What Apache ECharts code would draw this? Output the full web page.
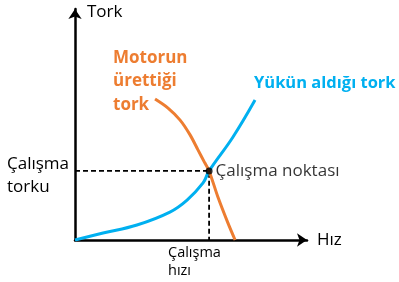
<!DOCTYPE html>
<html><head><meta charset="utf-8">
<script src="https://cdn.jsdelivr.net/npm/echarts@6/dist/echarts.min.js"></script>
<style>html,body{margin:0;padding:0;background:#fff}#c{width:399px;height:282px}</style>
</head><body><div id="c"></div>
<script>
// Data (arbitrary units: speed 0-100, torque 0-100)
const motorSpeed  = [34.5, 40.1, 45.3, 49.6, 53.0, 56.0, 57.8, 61.6, 65.9, 69.0];
const motorTorque = [61.0, 57.1, 51.9, 45.5, 39.0, 33.3, 29.9, 18.6, 7.4, 0];
const loadSpeed   = [0, 12.1, 26.7, 40.9, 48.3, 55.2, 57.8, 68.1, 77.6];
const loadTorque  = [0, 3.0, 6.5, 12.1, 17.3, 24.7, 29.9, 44.6, 60.6];
const opSpeed = 57.8, opTorque = 29.9;
const axisNames = ['Hız', 'Tork'];
const motorLabel = ['Motorun', 'ürettiği', 'tork'];
const loadLabel = 'Yükün aldığı tork';
const opLabel = 'Çalışma noktası';
const opTorqueLabel = ['Çalışma', 'torku'];
const opSpeedLabel = ['Çalışma', 'hızı'];

const FONT = 'Open Sans';
const zip = (a, b) => a.map((v, i) => [v, b[i]]);
const chart = echarts.init(document.getElementById('c'), null, {renderer: 'canvas'});
const axisCommon = {
  type: 'value', min: 0, max: 100,
  axisLine: {show: true, symbol: ['none', 'arrow'], symbolSize: [10, 10], lineStyle: {color: '#000', width: 2.5}},
  axisTick: {show: false}, axisLabel: {show: false}, splitLine: {show: false}
};
chart.setOption({
  animation: false,
  grid: {left: 75, right: 92, top: 9, bottom: 42},
  xAxis: Object.assign({}, axisCommon, {
    name: axisNames[0], nameLocation: 'end', nameGap: 10,
    nameTextStyle: {fontFamily: FONT, fontSize: 17, color: '#000', verticalAlign: 'middle'}
  }),
  yAxis: Object.assign({}, axisCommon, {
    name: axisNames[1], nameLocation: 'end', nameGap: -3,
    nameTextStyle: {fontFamily: FONT, fontSize: 17, color: '#000', align: 'left', verticalAlign: 'middle', padding: [0, 0, 0, 12]}
  }),
  series: [
    {type: 'line', data: [[0, opTorque], [opSpeed, opTorque], [opSpeed, 0]], symbol: 'none',
     lineStyle: {color: '#000', width: 1.8, type: [5, 3]}, z: 1},
    {type: 'line', data: zip(loadSpeed, loadTorque), smooth: 0.4, symbol: 'none',
     lineStyle: {color: '#00B0F0', width: 3}, z: 2},
    {type: 'line', data: zip(motorSpeed, motorTorque), smooth: 0.3, symbol: 'none',
     lineStyle: {color: '#ED7D31', width: 3}, z: 3},
    {type: 'scatter', data: [[opSpeed, opTorque]], symbolSize: 7, itemStyle: {color: '#000'}, z: 5,
     label: {show: true, position: 'right', distance: 3, formatter: opLabel, fontFamily: FONT, fontSize: 17, color: '#000'}}
  ],
  graphic: [
    {type: 'text', left: 113, top: 46, style: {text: motorLabel.join('\n'), fontFamily: FONT, fontWeight: 'bold', fontSize: 17, lineHeight: 23.5, fill: '#ED7D31'}},
    {type: 'text', left: 254, top: 75, style: {text: loadLabel, fontFamily: FONT, fontWeight: 'bold', fontSize: 16.5, fill: '#00B0F0'}},
    {type: 'text', left: 7, top: 153, style: {text: opTorqueLabel.join('\n'), fontFamily: FONT, fontSize: 17, lineHeight: 23, fill: '#000'}},
    {type: 'text', left: 168, top: 244, style: {text: opSpeedLabel.join('\n'), fontFamily: FONT, fontSize: 14.5, lineHeight: 18, fill: '#000'}}
  ]
});
</script></body></html>
